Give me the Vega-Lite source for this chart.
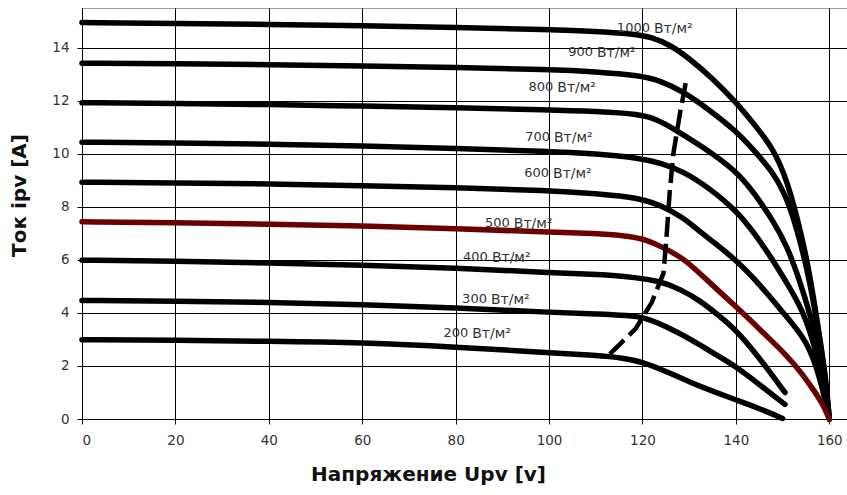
{
  "$schema": "https://vega.github.io/schema/vega-lite/v6.json",
  "width": 766,
  "height": 411,
  "autosize": {"type": "none"},
  "padding": {"left": 82, "top": 8, "right": 0, "bottom": 76},
  "background": "white",
  "config": {
    "font": "DejaVu Sans",
    "view": {"stroke": "#9a9a9a", "strokeWidth": 1}
  },
  "datasets": {
    "curves": [
      {"s": "1000", "V": 0, "I": 14.95}, {"s": "1000", "V": 20, "I": 14.92}, {"s": "1000", "V": 40, "I": 14.88}, {"s": "1000", "V": 60, "I": 14.83}, {"s": "1000", "V": 80, "I": 14.77}, {"s": "1000", "V": 100, "I": 14.68}, {"s": "1000", "V": 110, "I": 14.62}, {"s": "1000", "V": 118, "I": 14.52}, {"s": "1000", "V": 122, "I": 14.4}, {"s": "1000", "V": 126, "I": 14.1}, {"s": "1000", "V": 130, "I": 13.6}, {"s": "1000", "V": 135, "I": 12.85}, {"s": "1000", "V": 140, "I": 11.95}, {"s": "1000", "V": 144, "I": 11.1}, {"s": "1000", "V": 148, "I": 10.2}, {"s": "1000", "V": 151, "I": 9.0}, {"s": "1000", "V": 154, "I": 7.0}, {"s": "1000", "V": 156, "I": 5.3}, {"s": "1000", "V": 158, "I": 3.0}, {"s": "1000", "V": 159.2, "I": 1.6}, {"s": "1000", "V": 160, "I": 0},
      {"s": "900", "V": 0, "I": 13.42}, {"s": "900", "V": 20, "I": 13.4}, {"s": "900", "V": 40, "I": 13.36}, {"s": "900", "V": 60, "I": 13.32}, {"s": "900", "V": 80, "I": 13.26}, {"s": "900", "V": 100, "I": 13.18}, {"s": "900", "V": 110, "I": 13.1}, {"s": "900", "V": 119.5, "I": 12.95}, {"s": "900", "V": 124, "I": 12.75}, {"s": "900", "V": 128.7, "I": 12.35}, {"s": "900", "V": 134, "I": 11.7}, {"s": "900", "V": 140.2, "I": 10.84}, {"s": "900", "V": 144, "I": 10.1}, {"s": "900", "V": 148, "I": 9.3}, {"s": "900", "V": 151, "I": 8.3}, {"s": "900", "V": 153, "I": 7.2}, {"s": "900", "V": 155.5, "I": 5.5}, {"s": "900", "V": 157.5, "I": 3.5}, {"s": "900", "V": 159, "I": 1.8}, {"s": "900", "V": 160, "I": 0},
      {"s": "800", "V": 0, "I": 11.93}, {"s": "800", "V": 20, "I": 11.9}, {"s": "800", "V": 40, "I": 11.86}, {"s": "800", "V": 60, "I": 11.8}, {"s": "800", "V": 80, "I": 11.74}, {"s": "800", "V": 100, "I": 11.66}, {"s": "800", "V": 110, "I": 11.6}, {"s": "800", "V": 119.5, "I": 11.5}, {"s": "800", "V": 123, "I": 11.3}, {"s": "800", "V": 126.6, "I": 10.96}, {"s": "800", "V": 133, "I": 10.25}, {"s": "800", "V": 140.2, "I": 9.34}, {"s": "800", "V": 144, "I": 8.5}, {"s": "800", "V": 148, "I": 7.47}, {"s": "800", "V": 151, "I": 6.5}, {"s": "800", "V": 153.5, "I": 5.3}, {"s": "800", "V": 156, "I": 3.9}, {"s": "800", "V": 158, "I": 2.4}, {"s": "800", "V": 160, "I": 0},
      {"s": "700", "V": 0, "I": 10.44}, {"s": "700", "V": 20, "I": 10.41}, {"s": "700", "V": 40, "I": 10.37}, {"s": "700", "V": 60, "I": 10.3}, {"s": "700", "V": 80, "I": 10.2}, {"s": "700", "V": 100, "I": 10.1}, {"s": "700", "V": 110, "I": 10.0}, {"s": "700", "V": 119.5, "I": 9.84}, {"s": "700", "V": 124, "I": 9.65}, {"s": "700", "V": 128.7, "I": 9.34}, {"s": "700", "V": 134, "I": 8.75}, {"s": "700", "V": 140.2, "I": 7.84}, {"s": "700", "V": 144, "I": 7.0}, {"s": "700", "V": 148, "I": 5.97}, {"s": "700", "V": 151, "I": 5.1}, {"s": "700", "V": 154, "I": 4.2}, {"s": "700", "V": 156.5, "I": 3.0}, {"s": "700", "V": 158.5, "I": 1.6}, {"s": "700", "V": 160, "I": 0},
      {"s": "600", "V": 0, "I": 8.93}, {"s": "600", "V": 20, "I": 8.9}, {"s": "600", "V": 40, "I": 8.87}, {"s": "600", "V": 60, "I": 8.8}, {"s": "600", "V": 80, "I": 8.72}, {"s": "600", "V": 100, "I": 8.62}, {"s": "600", "V": 110, "I": 8.5}, {"s": "600", "V": 119.5, "I": 8.34}, {"s": "600", "V": 124, "I": 8.05}, {"s": "600", "V": 128.7, "I": 7.6}, {"s": "600", "V": 131.7, "I": 7.15}, {"s": "600", "V": 135, "I": 6.7}, {"s": "600", "V": 140, "I": 6.0}, {"s": "600", "V": 145, "I": 5.1}, {"s": "600", "V": 150.9, "I": 3.84}, {"s": "600", "V": 155.2, "I": 2.96}, {"s": "600", "V": 158, "I": 1.6}, {"s": "600", "V": 160, "I": 0},
      {"s": "500", "V": 0, "I": 7.44}, {"s": "500", "V": 20, "I": 7.4}, {"s": "500", "V": 40, "I": 7.35}, {"s": "500", "V": 60, "I": 7.28}, {"s": "500", "V": 80, "I": 7.18}, {"s": "500", "V": 100, "I": 7.05}, {"s": "500", "V": 110, "I": 7.0}, {"s": "500", "V": 116, "I": 6.92}, {"s": "500", "V": 120.2, "I": 6.8}, {"s": "500", "V": 124, "I": 6.5}, {"s": "500", "V": 128.7, "I": 6.09}, {"s": "500", "V": 134, "I": 5.2}, {"s": "500", "V": 140.2, "I": 4.21}, {"s": "500", "V": 145, "I": 3.4}, {"s": "500", "V": 150.9, "I": 2.4}, {"s": "500", "V": 154, "I": 1.75}, {"s": "500", "V": 156.6, "I": 1.1}, {"s": "500", "V": 158.5, "I": 0.6}, {"s": "500", "V": 160, "I": 0},
      {"s": "400", "V": 0, "I": 5.99}, {"s": "400", "V": 20, "I": 5.95}, {"s": "400", "V": 40, "I": 5.89}, {"s": "400", "V": 60, "I": 5.8}, {"s": "400", "V": 80, "I": 5.7}, {"s": "400", "V": 100, "I": 5.52}, {"s": "400", "V": 110.9, "I": 5.45}, {"s": "400", "V": 118, "I": 5.35}, {"s": "400", "V": 123.8, "I": 5.2}, {"s": "400", "V": 128, "I": 4.9}, {"s": "400", "V": 132.3, "I": 4.47}, {"s": "400", "V": 136, "I": 3.95}, {"s": "400", "V": 140.2, "I": 3.34}, {"s": "400", "V": 145, "I": 2.3}, {"s": "400", "V": 148, "I": 1.6}, {"s": "400", "V": 150.5, "I": 1.0},
      {"s": "300", "V": 0, "I": 4.47}, {"s": "300", "V": 20, "I": 4.44}, {"s": "300", "V": 40, "I": 4.4}, {"s": "300", "V": 60, "I": 4.32}, {"s": "300", "V": 80, "I": 4.2}, {"s": "300", "V": 100, "I": 4.02}, {"s": "300", "V": 110.9, "I": 3.96}, {"s": "300", "V": 117, "I": 3.9}, {"s": "300", "V": 120.2, "I": 3.84}, {"s": "300", "V": 125, "I": 3.5}, {"s": "300", "V": 130.8, "I": 2.96}, {"s": "300", "V": 135, "I": 2.5}, {"s": "300", "V": 140.2, "I": 1.96}, {"s": "300", "V": 145, "I": 1.3}, {"s": "300", "V": 150.5, "I": 0.55},
      {"s": "200", "V": 0, "I": 2.99}, {"s": "200", "V": 20, "I": 2.97}, {"s": "200", "V": 40, "I": 2.93}, {"s": "200", "V": 60, "I": 2.88}, {"s": "200", "V": 80, "I": 2.72}, {"s": "200", "V": 100, "I": 2.5}, {"s": "200", "V": 110, "I": 2.4}, {"s": "200", "V": 116, "I": 2.3}, {"s": "200", "V": 120, "I": 2.15}, {"s": "200", "V": 125, "I": 1.8}, {"s": "200", "V": 130.8, "I": 1.34}, {"s": "200", "V": 135, "I": 1.05}, {"s": "200", "V": 140.2, "I": 0.71}, {"s": "200", "V": 145, "I": 0.4}, {"s": "200", "V": 150, "I": 0.02}
    ],
    "locus": [
      {"o": 1, "V": 113, "I": 2.45}, {"o": 2, "V": 118.5, "I": 3.4}, {"o": 3, "V": 122, "I": 4.4}, {"o": 4, "V": 124.5, "I": 5.5}, {"o": 5, "V": 125.2, "I": 7.0}, {"o": 6, "V": 125.8, "I": 8.5}, {"o": 7, "V": 126.6, "I": 10.0}, {"o": 8, "V": 128, "I": 11.5}, {"o": 9, "V": 129.5, "I": 12.9}
    ],
    "labels": [
      {"n": "1000", "V": 121.6, "I": 14.75},
      {"n": "900", "V": 109.4, "I": 13.85},
      {"n": "800", "V": 100.9, "I": 12.53},
      {"n": "700", "V": 100.2, "I": 10.62},
      {"n": "600", "V": 100.0, "I": 9.27},
      {"n": "500", "V": 91.6, "I": 7.39},
      {"n": "400", "V": 86.9, "I": 6.12},
      {"n": "300", "V": 86.7, "I": 4.54},
      {"n": "200", "V": 82.7, "I": 3.23}
    ]
  },
  "layer": [
    {
      "data": {"name": "curves"},
      "transform": [{"filter": "datum.s !== '500'"}],
      "mark": {"type": "line", "interpolate": "basis", "strokeWidth": 5.5, "color": "#000000", "strokeCap": "round"},
      "encoding": {
        "x": {
          "field": "V", "type": "quantitative",
          "scale": {"domain": [0, 164], "nice": false, "zero": false},
          "axis": {
            "values": [0, 20, 40, 60, 80, 100, 120, 140, 160],
            "grid": true, "gridColor": "#000000", "gridWidth": 1, "gridOpacity": 1,
            "domainColor": "#000000", "domainWidth": 1,
            "tickColor": "#000000", "tickSize": 5,
            "labelFontSize": 13.5, "labelColor": "#333333", "labelPadding": 9,
            "title": "Напряжение Upv [v]",
            "titleFont": "DejaVu Sans", "titleFontSize": 20, "titleFontWeight": "bold", "titleColor": "#111111",
            "titleX": 346, "titleY": 61, "titleBaseline": "alphabetic", "titleAlign": "center"
          }
        },
        "y": {
          "field": "I", "type": "quantitative",
          "scale": {"domain": [0, 15.5], "nice": false, "zero": false},
          "axis": {
            "values": [0, 2, 4, 6, 8, 10, 12, 14],
            "grid": true, "gridColor": "#000000", "gridWidth": 1, "gridOpacity": 1,
            "domainColor": "#000000", "domainWidth": 1,
            "tickColor": "#000000", "tickSize": 5,
            "labelFontSize": 13.5, "labelColor": "#333333", "labelPadding": 8,
            "title": "Ток ipv [A]",
            "titleFont": "DejaVu Sans", "titleFontSize": 20, "titleFontWeight": "bold", "titleColor": "#111111",
            "titleX": -57, "titleY": 187, "titleAngle": 270, "titleBaseline": "alphabetic", "titleAlign": "center"
          }
        },
        "detail": {"field": "s", "type": "nominal"}
      }
    },
    {
      "data": {"name": "curves"},
      "transform": [{"filter": "datum.s === '500'"}],
      "mark": {"type": "line", "interpolate": "basis", "strokeWidth": 5.5, "color": "#6b0000", "strokeCap": "round"},
      "encoding": {
        "x": {"field": "V", "type": "quantitative"},
        "y": {"field": "I", "type": "quantitative"}
      }
    },
    {
      "data": {"name": "locus"},
      "mark": {"type": "line", "strokeWidth": 4.5, "color": "#000000", "strokeDash": [20, 7], "strokeCap": "butt"},
      "encoding": {
        "x": {"field": "V", "type": "quantitative"},
        "y": {"field": "I", "type": "quantitative"},
        "order": {"field": "o", "type": "quantitative"}
      }
    },
    {
      "data": {"name": "labels"},
      "mark": {"type": "text", "align": "right", "baseline": "middle", "fontSize": 13, "color": "#333333", "font": "DejaVu Sans"},
      "encoding": {
        "x": {"field": "V", "type": "quantitative"},
        "y": {"field": "I", "type": "quantitative"},
        "text": {"field": "n"}
      }
    },
    {
      "data": {"name": "labels"},
      "mark": {"type": "text", "align": "left", "baseline": "middle", "fontSize": 14, "dx": 4, "dy": 1, "color": "#333333", "font": "DejaVu Sans", "text": "Вт/м²"},
      "encoding": {
        "x": {"field": "V", "type": "quantitative"},
        "y": {"field": "I", "type": "quantitative"}
      }
    }
  ]
}
